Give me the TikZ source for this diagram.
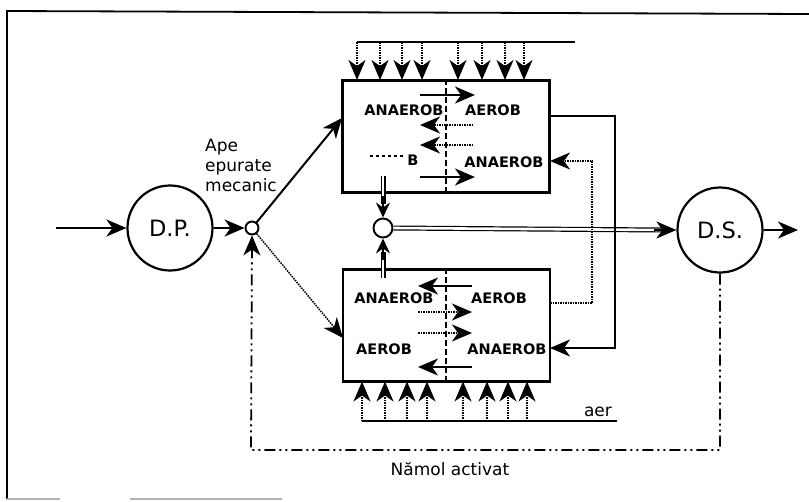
\documentclass[tikz,border=0pt]{standalone}
\usepackage{fontspec}
\setmainfont{DejaVu Sans}
\usetikzlibrary{arrows.meta,calc}
\begin{document}
\begin{tikzpicture}[x=1pt,y=-1pt,
  arr/.style={-{Stealth[length=20pt,width=17pt,inset=6pt]}},
  sarr/.style={-{Stealth[length=15pt,width=14pt,inset=5pt]}},
  ln/.style={line width=2pt},
  dl/.style={line width=1.5pt,densely dotted},
  dd/.style={line width=1.8pt,dash pattern=on 11pt off 4pt on 2pt off 4pt on 2pt off 4pt},
  box/.style={draw,line width=2.4pt,minimum width=207pt,minimum height=112pt,inner sep=0pt},
  circ/.style={draw,circle,line width=2.2pt,inner sep=0pt,minimum size=85pt,font=\fontsize{22.5}{26}\selectfont},
  lab/.style={font=\bfseries\fontsize{14.5}{16}\selectfont,inner sep=0pt},
  txt/.style={font=\fontsize{17}{20}\selectfont,inner sep=0pt}]
\useasboundingbox (0,0) rectangle (809,501);
% frame
\draw[line width=1.8pt] (7,499) -- (7,11) -- (809,14);
\draw[line width=1.2pt,gray!60] (7,499) -- (60,499) (130,499) -- (282,499);

% main nodes
\node[circ] (dp) at (170,228) {D.P.};
\node[circ] (ds) at (720,230) {D.S.};
\node[draw,circle,line width=1.9pt,minimum size=13pt,inner sep=0pt] (sc) at (252,228) {};
\node[draw,circle,line width=1.9pt,minimum size=19pt,inner sep=0pt] (mc) at (383,228) {};
\node[box] (ub) at (446,136.5) {};
\node[box] (lb) at (446.5,325.5) {};

% dividers
\draw[line width=1.6pt,dash pattern=on 6pt off 3pt] (ub.north -| 446,0) -- (ub.south -| 446,0);
\draw[line width=1.6pt,dash pattern=on 6pt off 3pt] (lb.north -| 446,0) -- (lb.south -| 446,0);

% input / output
\coordinate (in) at (56,228);
\coordinate (out) at (798,230);
\draw[ln,arr] (in) -- (dp.west);
\draw[ln,arr] (dp.east) -- (sc.west);
\draw[ln,arr] (ds.east) -- (out);
\node[txt,align=left,anchor=north west] (ape) at (205,139) {Ape\\epurate\\mecanic};

% feeds to boxes
\coordinate (ubin) at (342,118);
\coordinate (lbin) at (343,338);
\draw[ln,arr] (sc) -- (ubin);
\draw[dl,arr] (sc) -- (lbin);

% double lines to middle circle and D.S.
\draw[line width=1.2pt,double,double distance=2.6pt] (383,176) -- (383,204);
\draw[ln,sarr] (383,196) -- (mc.north);
\draw[line width=1.2pt,double,double distance=2.6pt] (383,278) -- (383,252);
\draw[ln,sarr] (383,260) -- (mc.south);
\draw[line width=1.2pt,double,double distance=2.6pt] (mc.east) -- ($(ds.west)+(-14,0)$);
\draw[ln,arr] ($(ds.west)+(-22,0)$) -- (ds.west);

% right loops
\coordinate (r1) at (550,116);
\coordinate (r2) at (550,348);
\draw[ln,arr] (r1) -- (615,116) -- (615,348) -- (r2);
\coordinate (d1) at (550,303);
\coordinate (d2) at (550,161);
\draw[dl,arr] (d1) -- (592,303) -- (592,161) -- (d2);

% recirculation (dash-dot)
\draw[dd,arr] (ds.south) -- (720,450) -- (251,450) -- (sc.south);
\node[txt] (nam) at (450,469) {Nămol activat};

% air top
\draw[line width=1.5pt] (357,42) -- (575,42);
\foreach \x in {357,380,402,422,458,482,505,524}
  \draw[dl,arr] (\x,42) -- (\x,80);
% air bottom
\draw[line width=1.5pt] (362,421) -- (617,421);
\foreach \x in {362,385,407,427,463,487,508,527}
  \draw[dl,arr] (\x,421) -- (\x,381.5);
\node[txt] (aer) at (598,412) {aer};

% upper box contents
\node[lab] (u1) at (404,110) {ANAEROB};
\node[lab] (u2) at (493,110) {AEROB};
\node[lab] (u3) at (413,160) {B};
\node[lab] (u4) at (504,162) {ANAEROB};
\draw[line width=1.2pt,dashed] (370,156) -- (405,156);
\draw[ln,arr] (420,95) -- (475,95);
\draw[dl,arr] (473,125) -- (420,125);
\draw[dl,arr] (473,145) -- (420,145);
\draw[ln,arr] (420,177) -- (475,177);

% lower box contents
\node[lab] (l1) at (394,298) {ANAEROB};
\node[lab] (l2) at (499,298) {AEROB};
\node[lab] (l3) at (384,349) {AEROB};
\node[lab] (l4) at (507,349) {ANAEROB};
\draw[ln,arr] (472,286) -- (418,286);
\draw[dl,arr] (418,312) -- (472,312);
\draw[dl,arr] (418,333) -- (472,333);
\draw[ln,arr] (472,367) -- (418,367);
\end{tikzpicture}
\end{document}
